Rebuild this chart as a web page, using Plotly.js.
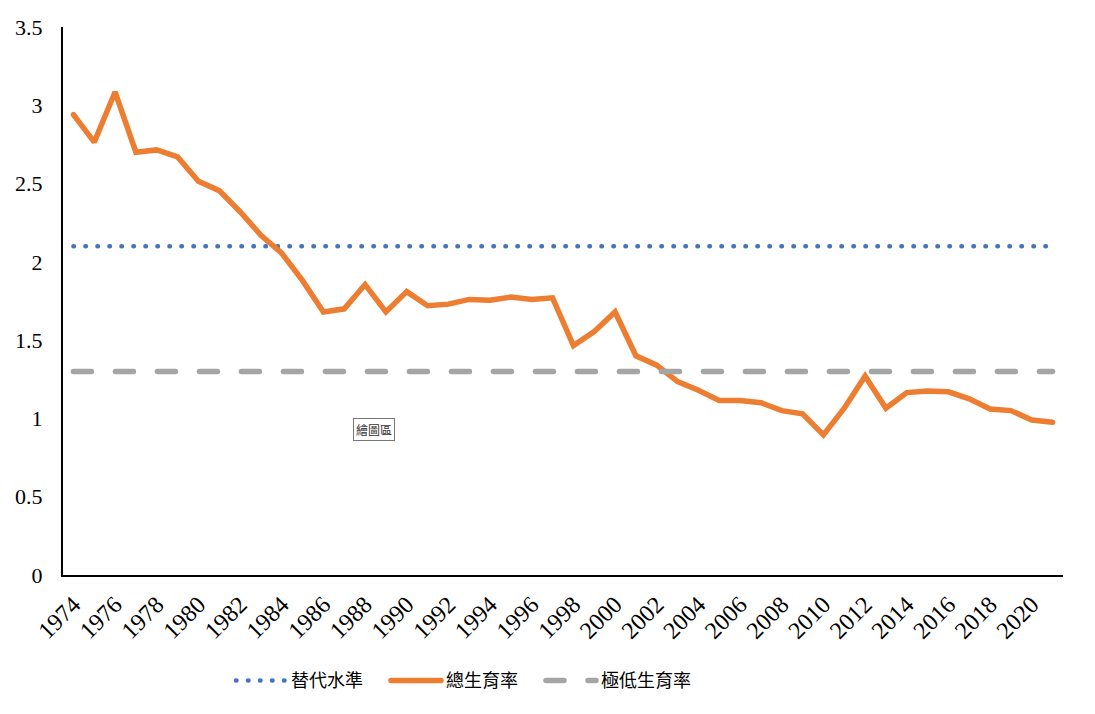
<!DOCTYPE html>
<html>
<head>
<meta charset="utf-8">
<script src="https://cdn.plot.ly/plotly-3.0.1.min.js"></script>
<style>
html,body{margin:0;padding:0;background:#fff;}
#chart{width:1095px;height:714px;}
.scatterlayer path.js-line, .legendlines path.js-line{stroke-linecap:round !important;}
</style>
</head>
<body>
<div id="chart"></div>
<script>
const years = [1974,1975,1976,1977,1978,1979,1980,1981,1982,1983,1984,1985,1986,1987,1988,1989,1990,1991,1992,1993,1994,1995,1996,1997,1998,1999,2000,2001,2002,2003,2004,2005,2006,2007,2008,2009,2010,2011,2012,2013,2014,2015,2016,2017,2018,2019,2020,2021];
const tfr = [2.94,2.765,3.085,2.70,2.715,2.67,2.515,2.455,2.32,2.17,2.055,1.88,1.68,1.70,1.855,1.68,1.81,1.72,1.73,1.76,1.755,1.775,1.76,1.77,1.465,1.555,1.68,1.40,1.34,1.235,1.18,1.115,1.115,1.10,1.05,1.03,0.895,1.065,1.27,1.065,1.165,1.175,1.17,1.125,1.06,1.05,0.99,0.975];
const replacementLevel = 2.1;
const lowestLowLevel = 1.3;
const tickYears = [1974,1976,1978,1980,1982,1984,1986,1988,1990,1992,1994,1996,1998,2000,2002,2004,2006,2008,2010,2012,2014,2016,2018,2020];
const yTicks = [0,0.5,1,1.5,2,2.5,3,3.5];
const names = ['替代水準','總生育率','極低生育率'];

const traces = [
  {x: years, y: years.map(()=>replacementLevel), name: names[0], type:'scatter', mode:'lines',
   line:{color:'#4472C4', width:4.5, dash:'0.5px,11.5px'}},
  {x: years, y: tfr, name: names[1], type:'scatter', mode:'lines',
   line:{color:'#ED7D31', width:5.5}},
  {x: years, y: years.map(()=>lowestLowLevel), name: names[2], type:'scatter', mode:'lines',
   line:{color:'#A5A5A5', width:5.5, dash:'18px,24px'}}
];

const layout = {
  width:1095, height:714,
  margin:{l:63, r:32, t:27, b:139},
  paper_bgcolor:'#fff', plot_bgcolor:'#fff',
  font:{family:'"Liberation Serif", "Times New Roman", serif', color:'#000', size:20},
  showlegend:true,
  legend:{orientation:'h', x:0.168, xanchor:'left', y:-0.193, yanchor:'middle',
          font:{family:'"Noto Sans CJK TC", "Noto Sans CJK SC", sans-serif', size:18, color:'#000'},
          itemwidth:50, entrywidth:90, entrywidthmode:'pixels', traceorder:'normal'},
  xaxis:{range:[1973.5,2021.5], tickmode:'array', tickvals:tickYears, ticktext:tickYears.map(String),
         tickangle:-45, showgrid:false, zeroline:false, showline:true, linecolor:'#000', linewidth:2,
         ticks:'', ticklabelstandoff:4, tickfont:{size:24}, fixedrange:true},
  yaxis:{range:[0,3.5], tickmode:'array', tickvals:yTicks, ticktext:yTicks.map(String),
         showgrid:false, zeroline:false, showline:true, linecolor:'#000', linewidth:2,
         ticks:'', ticklabelstandoff:14, tickfont:{size:22}, fixedrange:true},
  annotations:[{xref:'paper', yref:'paper', x:0.311, y:0.266, xanchor:'center', yanchor:'middle',
                text:'繪圖區', showarrow:false,
                font:{family:'"Noto Sans CJK TC", sans-serif', size:12, color:'#333'},
                bordercolor:'#777', borderwidth:1, bgcolor:'#fff', borderpad:2}]
};

Plotly.newPlot('chart', traces, layout, {displayModeBar:false, staticPlot:true});
</script>
</body>
</html>
